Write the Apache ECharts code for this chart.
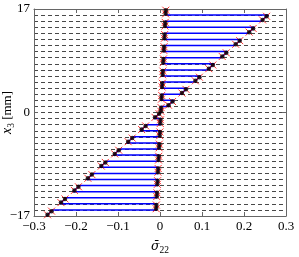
<!DOCTYPE html>
<html><head><meta charset="utf-8">
<script src="https://cdn.jsdelivr.net/npm/echarts@6/dist/echarts.min.js"></script>
<style>html,body{margin:0;padding:0;background:#fff}#c{width:299px;height:257px}</style>
</head><body><div id="c"></div>
<script>
// layer interfaces (mm), top to bottom
const interfaceZ = [17,16,15,14,13,12,11,10,9,8,7,6,5,4,3,2,1,0,-1,-2,-3,-4,-5,-6,-7,-8,-9,-10,-11,-12,-13,-14,-15,-16,-17];
// stress at top and bottom of each layer (blue profile)
const layerTopStress = [0.0139,0.2570,0.0125,0.2250,0.0111,0.1930,0.0097,0.161,0.0083,0.1290,0.0069,0.0970,0.0055,0.0650,0.0041,0.0330,0.0027,0.001,0.0013,-0.0310,-0.0001,-0.0630,-0.0015,-0.0950,-0.0029,-0.1270,-0.0043,-0.159,-0.0057,-0.1910,-0.0071,-0.2230,-0.0085,-0.2550];
const layerBottomStress = [0.0132,0.241,0.0118,0.2090,0.0104,0.1770,0.009,0.1450,0.0076,0.1130,0.0062,0.081,0.0048,0.0490,0.0034,0.0170,0.002,-0.0150,0.0006,-0.0470,-0.0008,-0.079,-0.0022,-0.1110,-0.0036,-0.1430,-0.005,-0.1750,-0.0064,-0.2070,-0.0078,-0.239,-0.0092,-0.2710];
// sampled points (markers)
const markerZ = [16.8,16.2,15.8,15.2,14.8,14.2,13.8,13.2,12.8,12.2,11.8,11.2,10.8,10.2,9.8,9.2,8.8,8.2,7.8,7.2,6.8,6.2,5.8,5.2,4.8,4.2,3.8,3.2,2.8,2.2,1.8,1.2,0.8,0.2,-0.2,-0.8,-1.2,-1.8,-2.2,-2.8,-3.2,-3.8,-4.2,-4.8,-5.2,-5.8,-6.2,-6.8,-7.2,-7.8,-8.2,-8.8,-9.2,-9.8,-10.2,-10.8,-11.2,-11.8,-12.2,-12.8,-13.2,-13.8,-14.2,-14.8,-15.2,-15.8,-16.2,-16.8];
const markerStress = [0.0138,0.0133,0.2538,0.2442,0.0124,0.0119,0.2218,0.2122,0.011,0.0105,0.1898,0.1802,0.0096,0.0091,0.1578,0.1482,0.0082,0.0077,0.1258,0.1162,0.0068,0.0063,0.0938,0.0842,0.0054,0.0049,0.0618,0.0522,0.004,0.0035,0.0298,0.0202,0.0026,0.0021,-0.0022,-0.0118,0.0012,0.0007,-0.0342,-0.0438,-0.0002,-0.0007,-0.0662,-0.0758,-0.0016,-0.0021,-0.0982,-0.1078,-0.003,-0.0035,-0.1302,-0.1398,-0.0044,-0.0049,-0.1622,-0.1718,-0.0058,-0.0063,-0.1942,-0.2038,-0.0072,-0.0077,-0.2262,-0.2358,-0.0086,-0.0091,-0.2582,-0.2678];
const xTicks = {min:-0.3, max:0.3, step:0.1};
const yTicks = {min:-17, max:17, step:17};

const profile = [];
for (let i = 0; i < layerTopStress.length; i++) {
  profile.push([layerTopStress[i], interfaceZ[i]]);
  profile.push([layerBottomStress[i], interfaceZ[i+1]]);
}
const markers = markerZ.map((z,i)=>[markerStress[i], z]);

const FONT = 'Liberation Serif';
const AX = '#666';
const fmt = v => { const r = Math.round(v*10)/10; return r === 0 ? '0' : String(r).replace('-', '\u2212'); };
const fmtY = v => { const r = Math.round(v); return r === 0 ? '0' : String(r).replace('-', '\u2212'); };

const chart = echarts.init(document.getElementById('c'), null, {renderer:'canvas'});
chart.setOption({
  animation: false,
  backgroundColor: '#fff',
  grid: {left:34, right:13, top:9, bottom:41, containLabel:false, outerBoundsMode:'none'},
  xAxis: [
    {type:'value', position:'bottom', min:xTicks.min, max:xTicks.max, interval:xTicks.step,
     axisLine:{show:true, onZero:false, lineStyle:{color:AX, width:1}},
     axisTick:{show:true, inside:true, length:4, lineStyle:{color:AX}},
     axisLabel:{formatter:fmt, fontFamily:FONT, fontSize:13, color:'#000', margin:4},
     splitLine:{show:false},
     name:'{i|σ\u0304}{s|22}', nameLocation:'middle', nameGap:22, nameMoveOverlap:false,
     nameTextStyle:{rich:{i:{fontFamily:'DejaVu Serif', fontStyle:'italic', fontSize:12.5, color:'#000'}, s:{fontFamily:FONT, fontSize:9.5, color:'#000', padding:[7,0,0,0]}}}
    },
    {type:'value', position:'top', min:xTicks.min, max:xTicks.max, interval:xTicks.step,
     axisLine:{show:true, onZero:false, lineStyle:{color:AX, width:1}},
     axisTick:{show:true, inside:true, length:4, lineStyle:{color:AX}},
     axisLabel:{show:false}, splitLine:{show:false}}
  ],
  yAxis: [
    {type:'value', position:'left', min:yTicks.min, max:yTicks.max, interval:yTicks.step,
     axisLine:{show:true, onZero:false, lineStyle:{color:AX, width:1}},
     axisTick:{show:true, inside:true, length:4, lineStyle:{color:AX}},
     axisLabel:{formatter:fmtY, fontFamily:FONT, fontSize:13, color:'#000', margin:4},
     splitLine:{show:false},
     name:'{i|x}{s|3} [mm]', nameLocation:'middle', nameGap:18, nameRotate:90, nameMoveOverlap:false,
     nameTextStyle:{fontFamily:FONT, fontSize:13, color:'#000', rich:{i:{fontFamily:FONT, fontStyle:'italic', fontSize:14, color:'#000'}, s:{fontFamily:FONT, fontSize:9.5, color:'#000', padding:[7,0,0,0]}}}
    },
    {type:'value', position:'right', min:yTicks.min, max:yTicks.max, interval:yTicks.step,
     axisLine:{show:true, onZero:false, lineStyle:{color:AX, width:1}},
     axisTick:{show:true, inside:true, length:4, lineStyle:{color:AX}},
     axisLabel:{show:false}, splitLine:{show:false}},
    {type:'value', position:'right', min:yTicks.min, max:yTicks.max, interval:1,
     axisLine:{show:false}, axisTick:{show:false}, axisLabel:{show:false},
     splitLine:{show:true, lineStyle:{color:'#333', width:0.9, type:[4,3]}}}
  ],
  series: [
    {type:'line', data:profile, xAxisIndex:0, yAxisIndex:0, showSymbol:false, symbol:'none',
     lineStyle:{color:'#0000ff', width:1.5}, z:3},
    {type:'scatter', data:markers, xAxisIndex:0, yAxisIndex:0,
     symbol:'path://M0,0L10,10M10,0L0,10', symbolSize:7,
     itemStyle:{color:'rgba(0,0,0,0)', borderColor:'#ff0000', borderWidth:1}, z:4},
    {type:'scatter', data:markers, xAxisIndex:0, yAxisIndex:0,
     symbol:'circle', symbolSize:4.5, itemStyle:{color:'#000'}, z:5}
  ]
});
</script></body></html>
